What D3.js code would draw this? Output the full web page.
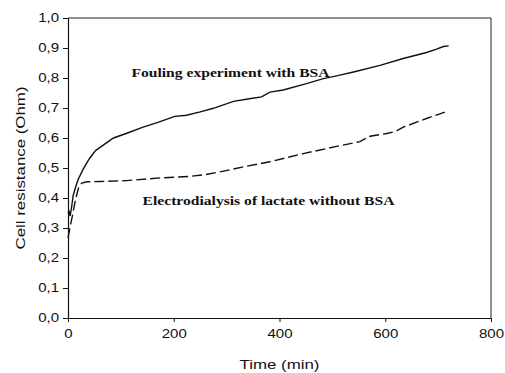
<!DOCTYPE html>
<html><head><meta charset="utf-8">
<script src="https://cdn.jsdelivr.net/npm/d3@7"></script>
<style>body{margin:0;background:#fff}svg{display:block}</style>
</head><body><svg id="c" width="505" height="373"></svg>
<script>
const xTicks = [0, 200, 400, 600, 800];
const yTicks = [0, 0.1, 0.2, 0.3, 0.4, 0.5, 0.6, 0.7, 0.8, 0.9, 1.0];
const xTitle = "Time (min)";
const yTitle = "Cell resistance (Ohm)";
const seriesNames = ["Fouling experiment with BSA", "Electrodialysis of lactate without BSA"];
const labelX = [120, 141];
const labelY = [0.803, 0.377];
const foulingTime = [0,2,4,6,10,15,20,29,40,52,60,76,86,110,142,170,202,224,250,275,313,340,366,382,407,451,483,510,540,590,634,678,697,710,720];
const foulingR = [0.35,0.355,0.34,0.36,0.41,0.44,0.465,0.497,0.53,0.558,0.568,0.588,0.6,0.615,0.636,0.652,0.672,0.676,0.687,0.699,0.722,0.73,0.737,0.753,0.76,0.781,0.798,0.808,0.82,0.842,0.865,0.885,0.896,0.905,0.907];
const lactateTime = [0,3,8,14,20,26,36,60,111,174,231,260,287,338,382,410,445,508,552,571,603,620,634,678,719];
const lactateR = [0.266,0.295,0.338,0.393,0.435,0.45,0.454,0.455,0.458,0.467,0.472,0.478,0.487,0.506,0.521,0.533,0.548,0.572,0.588,0.606,0.615,0.622,0.636,0.665,0.69];

const W = 505, H = 373, m = {l: 68, r: 14, t: 18, b: 55};
const SX = 1.25;
const svg = d3.select("#c");
const x = d3.scaleLinear().domain([0, 800]).range([m.l, W - m.r]);
const y = d3.scaleLinear().domain([0, 1]).range([H - m.b, m.t]);
const loc = d3.formatLocale({decimal: ",", thousands: ".", grouping: [3], currency: ["", ""]});
const fy = loc.format(".1f");

// frame (top and right)
svg.append("path")
  .attr("d", `M${x(0)},${y(1)}H${x(800)}V${y(0)}`)
  .attr("fill", "none").attr("stroke", "#222").attr("stroke-width", 1);

const gx = svg.append("g").attr("transform", `translate(0,${y(0)})`)
  .call(d3.axisBottom(x).tickValues(xTicks).tickSize(4).tickPadding(7).tickSizeOuter(0));
const gy = svg.append("g").attr("transform", `translate(${x(0)},0)`)
  .call(d3.axisLeft(y).tickValues(yTicks).tickFormat(fy).tickSize(5).tickPadding(4).tickSizeOuter(0));
[gx, gy].forEach(g => {
  g.select(".domain").attr("stroke", "#111").attr("stroke-width", 1.2);
  g.selectAll(".tick line").attr("stroke", "#111");
  g.selectAll("text").attr("font-family", "Liberation Sans, Arial, sans-serif")
    .attr("font-size", 12).attr("fill", "#111");
});
gx.selectAll(".tick text").attr("transform", `scale(${SX},1)`);
gy.selectAll(".tick text").attr("x", -9 / SX).attr("transform", `scale(${SX},1)`);

svg.append("text")
  .attr("transform", `translate(${(x(0)+x(800))/2},${H - 4}) scale(${SX},1)`)
  .attr("text-anchor", "middle").attr("font-family", "Liberation Sans, Arial, sans-serif")
  .attr("font-size", 13.5).attr("fill", "#111").text(xTitle);
svg.append("text")
  .attr("transform", `translate(25,${(y(0)+y(1))/2}) rotate(-90) scale(${SX},1)`)
  .attr("text-anchor", "middle").attr("font-family", "Liberation Sans, Arial, sans-serif")
  .attr("font-size", 13.5).attr("fill", "#111").text(yTitle);

const line = d3.line().x(d => x(d[0])).y(d => y(d[1])).curve(d3.curveLinear);
const foul = foulingTime.map((t, i) => [t, foulingR[i]]);
const lact = lactateTime.map((t, i) => [t, lactateR[i]]);
svg.append("path").datum(foul).attr("d", line)
  .attr("fill", "none").attr("stroke", "#111").attr("stroke-width", 1.4);
svg.append("path").datum(lact).attr("d", line)
  .attr("fill", "none").attr("stroke", "#111").attr("stroke-width", 1.4)
  .attr("stroke-dasharray", "10,4");

seriesNames.forEach((n, i) => {
  svg.append("text")
    .attr("transform", `translate(${x(labelX[i])},${y(labelY[i])}) scale(${SX},1)`)
    .attr("font-family", "Liberation Serif, Times New Roman, serif")
    .attr("font-weight", "bold").attr("font-size", 12.5).attr("fill", "#111").text(n);
});
</script></body></html>
